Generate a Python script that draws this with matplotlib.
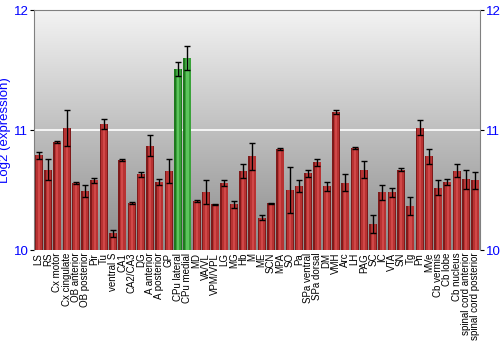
import numpy as np
import matplotlib
matplotlib.use("Agg")
import matplotlib.pyplot as plt
from matplotlib.colors import LinearSegmentedColormap

categories = ["LS", "RS", "Cx motor", "Cx cingulate", "OB anterior", "OB posterior",
              "Pir", "Tu", "ventral S", "CA1", "CA2/CA3", "DG", "A anterior",
              "A posterior", "GP", "CPu lateral", "CPu medial", "MD", "VA/VL",
              "VPM/VPL", "LG", "MG", "Hb", "M", "ME", "SCN", "MPA", "SO", "Pa",
              "SPa ventral", "SPa dorsal", "DM", "VMH", "Arc", "LH", "PAG", "SC",
              "IC", "VTA", "SN", "Tg", "Pn", "MVe", "Cb vermis", "Cb lobe",
              "Cb nucleus", "spinal cord anterior", "spinal cord posterior"]

values = [10.79, 10.67, 10.90, 11.02, 10.56, 10.49, 10.58, 11.05, 10.14, 10.75,
          10.39, 10.63, 10.87, 10.57, 10.66, 11.51, 11.60, 10.41, 10.48, 10.38,
          10.56, 10.38, 10.66, 10.78, 10.27, 10.39, 10.84, 10.50, 10.53, 10.64,
          10.73, 10.53, 11.15, 10.56, 10.85, 10.67, 10.22, 10.48, 10.48, 10.67,
          10.37, 11.02, 10.78, 10.52, 10.57, 10.66, 10.59, 10.58]

errors = [0.03, 0.09, 0.01, 0.15, 0.01, 0.05, 0.02, 0.04, 0.03, 0.005,
          0.01, 0.02, 0.09, 0.025, 0.10, 0.06, 0.10, 0.01, 0.10, 0.005,
          0.025, 0.03, 0.06, 0.11, 0.02, 0.005, 0.01, 0.19, 0.05, 0.03,
          0.03, 0.035, 0.02, 0.07, 0.005, 0.07, 0.075, 0.06, 0.04, 0.015,
          0.075, 0.06, 0.06, 0.06, 0.025, 0.055, 0.08, 0.07]

highlight = ["CPu lateral", "CPu medial"]

yticks = [10, 11, 12]
ylabel = "Log2 (expression)"

plt.rcParams['font.family'] = ['Liberation Sans', 'DejaVu Sans']

fig = plt.figure(figsize=(5, 3.5), dpi=100)
ax = fig.add_axes([0.068, 0.2857, 0.892, 0.6857])

n = len(categories)
x = np.arange(n)
base = 10

# gradient background (dark at bottom, light at top)
grad = np.linspace(0, 1, 256).reshape(-1, 1)
bg = LinearSegmentedColormap.from_list("bg", ["#8c8c8c", "#f3f3f3"])
ax.imshow(grad, aspect="auto", cmap=bg, origin="lower",
          extent=[-0.5, n - 0.5, 10, 12], zorder=0)

ax.axhline(11, color="white", lw=1.2, zorder=1)

main_cols = ["#3aa23a" if c in highlight else "#b83232" for c in categories]
dark_cols = ["#1e7a1e" if c in highlight else "#7e1a1a" for c in categories]
light_cols = ["#5cc45c" if c in highlight else "#d04848" for c in categories]

heights = [v - base for v in values]
ax.bar(x, heights, bottom=base, width=0.86, color=dark_cols, zorder=2)
ax.bar(x + 0.05, heights, bottom=base, width=0.62, color=main_cols, zorder=3)
ax.bar(x + 0.02, heights, bottom=base, width=0.22, color=light_cols, zorder=4)

ax.errorbar(x, values, yerr=errors, fmt="none", ecolor="black", elinewidth=1,
            capsize=2, capthick=1, zorder=5)

ax.set_xlim(-0.5, n - 0.5)
ax.set_ylim(10, 12)
ax.set_yticks(yticks)
ax.set_yticklabels([str(t) for t in yticks], color="blue", fontsize=9.5)
ax.tick_params(axis="y", which="both", left=True, right=True, labelleft=True,
               labelright=True, length=3, color="black", pad=1)
ax.set_xticks(x)
ax.set_xticklabels(categories, rotation=90, fontsize=7)
ax.tick_params(axis="x", length=0, pad=2)
ax.set_ylabel(ylabel, color="blue", fontsize=9.5, labelpad=2)

for s in ax.spines.values():
    s.set_color("#808080")
ax.spines["bottom"].set_visible(False)

fig.savefig("out.png", dpi=100)
